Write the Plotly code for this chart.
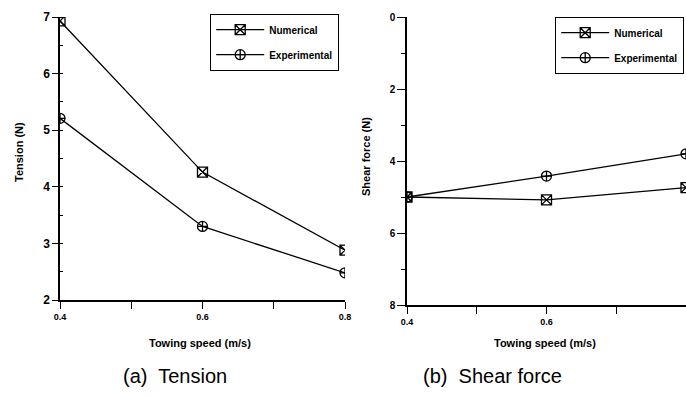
import plotly.graph_objects as go

speed = [0.4, 0.6, 0.8]
tension_num = [6.93, 4.26, 2.88]
tension_exp = [5.21, 3.30, 2.48]
shear_num = [5.00, 5.08, 4.74]
shear_exp = [5.00, 4.42, 3.80]

x_tickvals = [0.4, 0.5, 0.6, 0.7, 0.8]
x_ticktext = ["0.4", "", "0.6", "", "0.8"]
t_ticks = [2, 3, 4, 5, 6, 7]
s_ticks = [0, 2, 4, 6, 8]

W, H = 686, 398
FONT = "Arial, Liberation Sans, sans-serif"

def px(x):
    return x / W

def py(y):
    return 1 - y / H

line = dict(color="black", width=1.3)
m_num = dict(symbol="square-x-open", size=10, color="black", line=dict(width=1.3, color="black"))
m_exp = dict(symbol="circle-cross-open", size=10, color="black", line=dict(width=1.3, color="black"))

fig = go.Figure()
fig.add_trace(go.Scatter(x=speed, y=tension_num, mode="lines+markers", name="Numerical",
                         line=line, marker=m_num, xaxis="x", yaxis="y", legend="legend", legendgroup="n1"))
fig.add_trace(go.Scatter(x=speed, y=tension_exp, mode="lines+markers", name="Experimental",
                         line=line, marker=m_exp, xaxis="x", yaxis="y", legend="legend", legendgroup="e1"))
fig.add_trace(go.Scatter(x=speed, y=shear_num, mode="lines+markers", name="Numerical",
                         line=line, marker=m_num, xaxis="x2", yaxis="y2", legend="legend2", legendgroup="n2"))
fig.add_trace(go.Scatter(x=speed, y=shear_exp, mode="lines+markers", name="Experimental",
                         line=line, marker=m_exp, xaxis="x2", yaxis="y2", legend="legend2", legendgroup="e2"))

xaxis_common = dict(range=[0.4, 0.8], tickvals=x_tickvals, ticktext=x_ticktext, ticks="outside",
                    ticklen=7, tickwidth=1.3, tickcolor="black", showline=True, linecolor="black",
                    linewidth=1.5, showgrid=False, zeroline=False,
                    tickfont=dict(family=FONT, size=9, color="black", weight="bold"),
                    automargin=False)

legend_common = dict(xanchor="left", yanchor="top", bgcolor="white",
                     bordercolor="black", borderwidth=1.2,
                     font=dict(family=FONT, size=10, color="black", weight="bold"),
                     itemwidth=48, tracegroupgap=6)

fig.update_layout(
    width=W, height=H,
    margin=dict(l=0, r=0, t=0, b=0),
    paper_bgcolor="white", plot_bgcolor="white",
    showlegend=True,
    xaxis=dict(domain=[px(60), px(345)], anchor="y", **xaxis_common),
    yaxis=dict(domain=[py(300), py(17)], anchor="x", range=[2, 7], tickvals=t_ticks,
               ticks="outside", ticklen=6, tickwidth=1.3, tickcolor="black",
               minor=dict(dtick=0.5, ticks="inside", ticklen=3, tickcolor="black"),
               showline=True, linecolor="black", linewidth=1.5, showgrid=False, zeroline=False,
               tickfont=dict(family=FONT, size=12, color="black", weight="bold"), automargin=False),
    xaxis2=dict(domain=[px(407), 1.0], anchor="y2", **xaxis_common),
    yaxis2=dict(domain=[py(305), py(17)], anchor="x2", range=[8, 0], tickvals=s_ticks,
                ticks="outside", ticklen=8, tickwidth=1.3, tickcolor="black",
                minor=dict(dtick=1, ticks="outside", ticklen=4, tickcolor="black"),
                showline=True, linecolor="black", linewidth=1.5, showgrid=False, zeroline=False,
                tickfont=dict(family=FONT, size=10, color="black", weight="bold"), automargin=False),
    legend=dict(x=px(210), y=py(14), **legend_common),
    legend2=dict(x=px(555), y=py(17), **legend_common),
)

ann_font = dict(family=FONT, size=11, color="black", weight="bold")
cap_font = dict(family=FONT, size=20, color="black")
annotations = [
    dict(text="Tension (N)", x=px(19), y=py(152), textangle=-90, font=ann_font),
    dict(text="Shear force (N)", x=px(366), y=py(157), textangle=-90, font=ann_font),
    dict(text="Towing speed (m/s)", x=px(200), y=py(343), font=ann_font),
    dict(text="Towing speed (m/s)", x=px(545), y=py(343), font=ann_font),
    dict(text="(a)  Tension", x=px(175), y=py(376), font=cap_font),
    dict(text="(b)  Shear force", x=px(492), y=py(376), font=cap_font),
]
for a in annotations:
    a.update(xref="paper", yref="paper", showarrow=False, xanchor="center", yanchor="middle")
fig.update_layout(annotations=annotations)

fig.write_html("out.html")
